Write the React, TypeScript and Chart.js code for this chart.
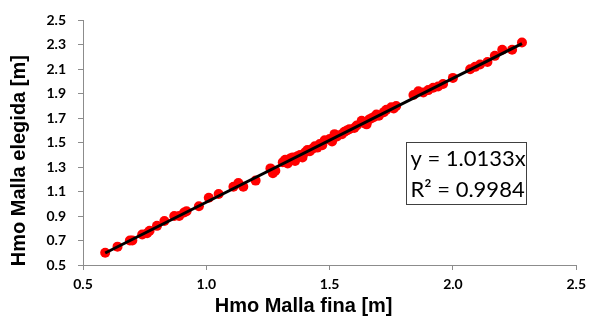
import React, { useEffect, useRef } from "react";
import { Chart, registerables } from "chart.js";

Chart.register(...registerables);

// Data
const hmoFina = [
  0.59, 0.64, 0.69, 0.70, 0.74, 0.76, 0.77, 0.80, 0.83, 0.87,
  0.89, 0.91, 0.92, 0.97, 1.01, 1.05, 1.11, 1.13, 1.15, 1.20,
  1.26, 1.27, 1.28, 1.31, 1.32, 1.33, 1.34, 1.35, 1.36, 1.37,
  1.38, 1.39, 1.40, 1.41, 1.42, 1.43, 1.44, 1.45, 1.46, 1.47,
  1.48, 1.50, 1.51, 1.52, 1.53, 1.55, 1.56, 1.57, 1.58, 1.60,
  1.61, 1.63, 1.64, 1.65, 1.66, 1.67, 1.68, 1.69, 1.70, 1.72,
  1.73, 1.75, 1.76, 1.77, 1.84, 1.86, 1.88, 1.90, 1.92, 1.94,
  1.96, 2.00, 2.07, 2.09, 2.11, 2.14, 2.17, 2.20, 2.24, 2.28,
];
const hmoElegida = [
  0.60, 0.65, 0.70, 0.70, 0.75, 0.76, 0.78, 0.82, 0.86, 0.90,
  0.90, 0.93, 0.94, 0.98, 1.05, 1.08, 1.14, 1.17, 1.14, 1.19,
  1.29, 1.25, 1.27, 1.34, 1.36, 1.33, 1.37, 1.38, 1.35, 1.39,
  1.40, 1.38, 1.42, 1.44, 1.43, 1.45, 1.47, 1.46, 1.49, 1.48,
  1.52, 1.53, 1.51, 1.57, 1.55, 1.57, 1.59, 1.60, 1.61, 1.62,
  1.64, 1.68, 1.66, 1.65, 1.69, 1.70, 1.71, 1.73, 1.72, 1.75,
  1.77, 1.79, 1.78, 1.80, 1.89, 1.92, 1.91, 1.93, 1.95, 1.96,
  1.98, 2.03, 2.10, 2.12, 2.14, 2.16, 2.21, 2.26, 2.26, 2.32,
];
const slope = 1.0133;
const rSquared = 0.9984;
const xTickValues = [0.5, 1.0, 1.5, 2.0, 2.5];
const yTickValues = [0.5, 0.7, 0.9, 1.1, 1.3, 1.5, 1.7, 1.9, 2.1, 2.3, 2.5];
const xTitle = "Hmo Malla fina [m]";
const yTitle = "Hmo Malla elegida [m]";
const equationLines = [`y = ${slope.toFixed(4)}x`, `R² = ${rSquared.toFixed(4)}`];

const AXIS_GRAY = "#8c8c8c";
const TICK_FONT = { family: "Lato, 'Open Sans', sans-serif", size: 14, weight: "bold" as const };

export default function App() {
  const canvasRef = useRef<HTMLCanvasElement>(null);

  useEffect(() => {
    const canvas = canvasRef.current;
    if (!canvas) return;

    const xMin = Math.min(...hmoFina);
    const xMax = Math.max(...hmoFina);
    const trendData = [
      { x: xMin, y: slope * xMin },
      { x: xMax, y: slope * xMax },
    ];
    const pointData = hmoFina.map((x, i) => ({ x, y: hmoElegida[i] }));

    const overlayPlugin = {
      id: "overlay",
      afterDraw(chart: any) {
        const { ctx, chartArea } = chart;
        const xs = chart.scales.x;
        const ys = chart.scales.y;
        ctx.save();
        // Axis titles
        ctx.fillStyle = "#000";
        ctx.font = "bold 20px 'Liberation Sans', Arial, sans-serif";
        ctx.textAlign = "center";
        ctx.textBaseline = "middle";
        ctx.fillText(xTitle, (chartArea.left + chartArea.right) / 2 - 26, 306);
        ctx.save();
        ctx.translate(19, (chartArea.top + chartArea.bottom) / 2 + 18);
        ctx.rotate(-Math.PI / 2);
        ctx.fillText(yTitle, 0, 0);
        ctx.restore();

        // Equation box
        const left = Math.round(xs.getPixelForValue(1.808)) + 0.5;
        const right = Math.round(xs.getPixelForValue(2.298)) + 0.5;
        const top = Math.round(ys.getPixelForValue(1.505)) + 0.5;
        const bottom = Math.round(ys.getPixelForValue(0.998)) + 0.5;
        ctx.fillStyle = "#fff";
        ctx.fillRect(left, top, right - left, bottom - top);
        ctx.strokeStyle = "#404040";
        ctx.lineWidth = 1;
        ctx.strokeRect(left, top, right - left, bottom - top);
        ctx.fillStyle = "#000";
        ctx.font = "22px Lato, 'Open Sans', sans-serif";
        ctx.textAlign = "left";
        ctx.textBaseline = "middle";
        const lh = (bottom - top) / 2;
        equationLines.forEach((line, i) => {
          ctx.fillText(line, left + 4, top + lh * (i + 0.5) + 1);
        });
        ctx.restore();
      },
    };

    const chart = new Chart(canvas, {
      type: "scatter",
      data: {
        datasets: [
          {
            label: "Tendencia",
            data: trendData,
            showLine: true,
            borderColor: "#000",
            borderWidth: 3,
            pointRadius: 0,
            pointHoverRadius: 0,
            fill: false,
          },
          {
            label: "Hmo",
            data: pointData,
            showLine: false,
            backgroundColor: "#ff0000",
            borderColor: "#ff0000",
            borderWidth: 0,
            pointRadius: 5,
          },
        ],
      },
      options: {
        responsive: false,
        animation: false,
        layout: { padding: { left: 0, right: 10, top: 13, bottom: 0 } },
        plugins: {
          legend: { display: false },
          tooltip: { enabled: false },
        },
        scales: {
          x: {
            type: "linear",
            min: 0.5,
            max: 2.5,
            afterBuildTicks: (s: any) => {
              s.ticks = xTickValues.map((v) => ({ value: v }));
            },
            afterFit: (s: any) => {
              s.height = 57;
            },
            ticks: {
              callback: (v: any) => Number(v).toFixed(1),
              font: TICK_FONT,
              color: "#000",
              padding: 6,
              maxRotation: 0,
            },
            grid: {
              drawOnChartArea: false,
              drawTicks: true,
              tickLength: 5,
              color: AXIS_GRAY,
            },
            border: { color: AXIS_GRAY, width: 1 },
          },
          y: {
            type: "linear",
            min: 0.5,
            max: 2.5,
            afterBuildTicks: (s: any) => {
              s.ticks = yTickValues.map((v) => ({ value: v }));
            },
            afterFit: (s: any) => {
              s.width = 83;
            },
            ticks: {
              callback: (v: any) => Number(v).toFixed(1),
              font: TICK_FONT,
              color: "#000",
              padding: 12,
            },
            grid: {
              drawOnChartArea: false,
              drawTicks: true,
              tickLength: 5,
              color: AXIS_GRAY,
            },
            border: { color: AXIS_GRAY, width: 1 },
          },
        },
      },
      plugins: [overlayPlugin],
    });

    return () => chart.destroy();
  }, []);

  return (
    <div style={{ position: "absolute", left: 0, top: 0, width: 592, height: 322, background: "#fff" }}>
      <canvas ref={canvasRef} width={592} height={322} style={{ display: "block", width: 592, height: 322 }} />
    </div>
  );
}
